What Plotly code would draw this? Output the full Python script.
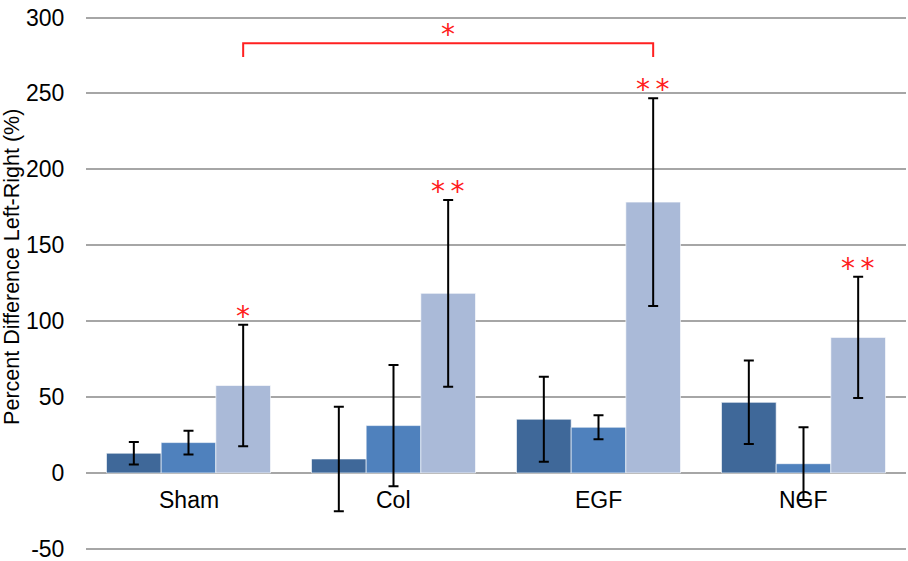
import plotly.graph_objects as go

categories = ["Sham", "Col", "EGF", "NGF"]
series_names = ["Series 1", "Series 2", "Series 3"]
means_1 = [13.0, 9.2, 35.4, 46.5]
errs_1 = [7.4, 34.4, 28.0, 27.5]
means_2 = [20.0, 31.2, 30.1, 6.1]
errs_2 = [7.8, 39.9, 7.9, 24.0]
means_3 = [57.6, 118.3, 178.4, 89.3]
errs_3 = [40.0, 61.5, 68.5, 40.0]
stars_3 = ["*", "**", "**", "**"]
bracket_from, bracket_to, bracket_label = 0, 2, "*"
y_ticks = [-50, 0, 50, 100, 150, 200, 250, 300]
y_tick_text = ["-50", "0", "50", "100", "150", "200", "250", "300"]

colors = ["#3F6899", "#4F81BD", "#AABAD8"]
bargap = 0.2
n_series = 3
bar_w = (1 - bargap) / n_series

x_idx = list(range(len(categories)))
fig = go.Figure()
for name, m, e, c in zip(series_names, [means_1, means_2, means_3],
                         [errs_1, errs_2, errs_3], colors):
    fig.add_trace(go.Bar(
        x=x_idx, y=m, name=name,
        marker=dict(color=c, line=dict(color="rgba(255,255,255,0.6)", width=1)),
        error_y=dict(type="data", array=e, visible=True, color="black",
                     thickness=2, width=5),
    ))

red = "#FF2020"
star_font = dict(color=red, size=28, family="DejaVu Sans")
off3 = bar_w  # offset of third series from category center
for i, s in enumerate(stars_3):
    fig.add_annotation(x=i + off3, y=means_3[i] + errs_3[i],
                       text=s.replace("*", "*\u2009").strip(),
                       showarrow=False, yanchor="bottom", yshift=-10,
                       font=star_font)

# bracket between Sham and EGF third series
xa, xb = bracket_from + off3, bracket_to + off3
y_top, y_end = 283, 274
fig.add_shape(type="path",
              path=f"M {xa} {y_end} L {xa} {y_top} L {xb} {y_top} L {xb} {y_end}",
              xref="x", yref="y", line=dict(color=red, width=2))
fig.add_annotation(x=(xa + xb) / 2, y=y_top, text=bracket_label, showarrow=False,
                   yanchor="bottom", yshift=-10, font=star_font)

# category labels below zero line
for i, c in enumerate(categories):
    fig.add_annotation(x=i, y=0, text=c, showarrow=False, yanchor="top",
                       yshift=-12, font=dict(size=23, color="black",
                                             family="Liberation Sans"))

fig.add_annotation(x=-0.09, y=0.54, xref="paper", yref="paper",
                   text="Percent Difference Left-Right (%)", textangle=-90,
                   showarrow=False, xanchor="center", yanchor="middle",
                   font=dict(size=21.5, color="black", family="Liberation Sans"))

fig.update_layout(
    width=908, height=561,
    margin=dict(l=86, r=2, t=16, b=0),
    barmode="group", bargap=bargap, bargroupgap=0,
    plot_bgcolor="white", paper_bgcolor="white",
    showlegend=False,
    font=dict(family="Liberation Sans", color="black"),
)
fig.update_xaxes(range=[-0.5, len(categories) - 0.5], showticklabels=False,
                 showgrid=False, zeroline=False, showline=False, ticks="")
fig.update_yaxes(range=[-58, 301], tickmode="array", tickvals=y_ticks,
                 ticktext=y_tick_text, showgrid=True,
                 gridcolor="#A6A6A6", gridwidth=2, zeroline=True,
                 zerolinecolor="#A6A6A6", zerolinewidth=2, showline=False,
                 tickfont=dict(size=23, color="black"), ticks="outside",
                 ticklen=16, tickcolor="rgba(0,0,0,0)",
                 ticklabeloverflow="allow")

fig.write_html("out.html")
